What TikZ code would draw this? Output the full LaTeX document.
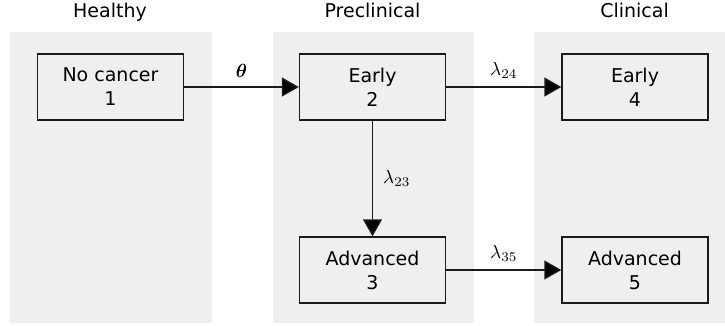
\documentclass[tikz,border=0pt]{standalone}
\usepackage{graphicx}
\usepackage{bm}
\usepackage{fontspec}
\setmainfont{DejaVu Sans}
\usetikzlibrary{arrows.meta}
\definecolor{panel}{HTML}{EFEFEF}
\definecolor{edge}{HTML}{1A1A1A}
\newcommand{\ratelbl}[1]{\scalebox{1.9}{$#1$}}
\tikzset{
  panelbox/.style={fill=panel, draw=none},
  statebox/.style={draw=edge, line width=1.4pt, fill=panel, minimum width=146pt, minimum height=66pt,
    align=center, inner sep=0pt, font=\fontsize{19}{24}\selectfont},
  title/.style={anchor=base, font=\fontsize{19}{24}\selectfont},
  trans/.style={draw=edge, line width=1.4pt, -{Triangle[length=17pt,width=19pt,fill=black]}},
  rate/.style={inner sep=0pt}
}
\begin{document}
\begin{tikzpicture}[x=1pt,y=-1pt]
\useasboundingbox (0,0) rectangle (725,326);
\fill[panelbox] (10,32) rectangle (212,323);
\fill[panelbox] (273,32) rectangle (474,323);
\fill[panelbox] (534,32) rectangle (725,323);
\node[title] (t1) at (110,18) {Healthy};
\node[title] (t2) at (372.5,18) {Preclinical};
\node[title] (t3) at (634.5,18) {Clinical};
\node[statebox] (s1) at (110.5,87) {No cancer\\1};
\node[statebox] (s2) at (372.5,87) {Early\\2};
\node[statebox] (s3) at (372.5,270) {Advanced\\3};
\node[statebox] (s4) at (635,87) {Early\\4};
\node[statebox] (s5) at (635,270) {Advanced\\5};
\draw[trans] (s1) -- node[rate, midway, yshift=16] (l1) {\ratelbl{\bm{\theta}}} (s2);
\draw[trans] (s2) -- node[rate, midway, yshift=17] (l2) {\ratelbl{\lambda_{24}}} (s4);
\draw[trans] (s2) -- node[rate, midway, anchor=west, xshift=10, yshift=0.5] (l3) {\ratelbl{\lambda_{23}}} (s3);
\draw[trans] (s3) -- node[rate, midway, yshift=17] (l4) {\ratelbl{\lambda_{35}}} (s5);
\end{tikzpicture}
\end{document}
